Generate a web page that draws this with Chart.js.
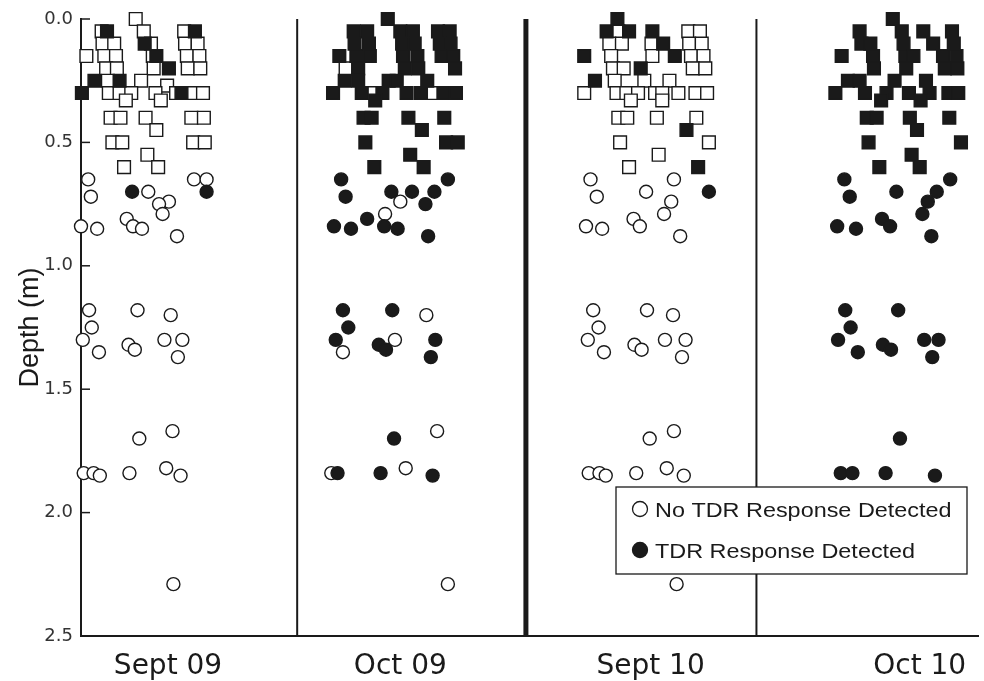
<!DOCTYPE html>
<html lang="en">
<head>
<meta charset="UTF-8">
<title>TDR response with depth</title>
<script src="https://cdn.jsdelivr.net/npm/chart.js"></script>
<style>
  body { margin: 0; background: #fff; }
  #grafico { display: block; }
</style>
</head>
<body>
<canvas id="grafico" width="984" height="681"></canvas>
<script>
// x values are % of the plot width, y values are depth in m
const panelNames = ['Sept 09', 'Oct 09', 'Sept 10', 'Oct 10'];
const panelLabelPos = [9.7, 35.6, 63.5, 93.5];
const dividerPos = [24.1, 49.6, 75.3];
const dividerWidth = [2, 5, 2];
const depthTicks = [0, 0.5, 1.0, 1.5, 2.0, 2.5];
const legendLabels = ['No TDR Response Detected', 'TDR Response Detected'];

// Sept 09
const sept09OpenSq = [
  [6.1, 0],
  [2.3, 0.05], [7.0, 0.05], [11.5, 0.05],
  [2.4, 0.1], [3.7, 0.1], [7.8, 0.1], [11.6, 0.1], [13.0, 0.1],
  [0.6, 0.15], [2.6, 0.15], [3.9, 0.15], [8.0, 0.15], [11.8, 0.15], [13.2, 0.15],
  [2.8, 0.2], [4.0, 0.2], [8.1, 0.2], [11.9, 0.2], [13.3, 0.2],
  [3.0, 0.25], [6.7, 0.25], [9.6, 0.27],
  [3.1, 0.3], [4.3, 0.3], [5.6, 0.3], [8.3, 0.3], [10.6, 0.3], [12.3, 0.3], [13.6, 0.3],
  [5.0, 0.33], [8.9, 0.33],
  [3.3, 0.4], [4.4, 0.4], [7.2, 0.4], [12.3, 0.4], [13.7, 0.4],
  [8.4, 0.45],
  [3.5, 0.5], [4.6, 0.5], [12.5, 0.5], [13.8, 0.5],
  [7.4, 0.55],
  [4.8, 0.6], [8.6, 0.6]
];
const sept09FilledSq = [[2.9, 0.05], [12.7, 0.05], [7.1, 0.1], [8.4, 0.15], [9.8, 0.2], [1.5, 0.25], [4.3, 0.25], [0.1, 0.3], [11.2, 0.3]];
const sept09OpenCirc = [
  [0.8, 0.65], [12.6, 0.65], [14.0, 0.65], [7.5, 0.70], [1.1, 0.72], [9.8, 0.74], [8.7, 0.75], [9.1, 0.79],
  [5.1, 0.81], [0.0, 0.84], [5.8, 0.84], [1.8, 0.85], [6.8, 0.85], [10.7, 0.88],
  [0.9, 1.18], [6.3, 1.18], [10.0, 1.20], [1.2, 1.25], [0.2, 1.30], [9.3, 1.30], [11.3, 1.30],
  [5.3, 1.32], [6.0, 1.34], [2.0, 1.35], [10.8, 1.37],
  [10.2, 1.67], [6.5, 1.70], [9.5, 1.82], [0.3, 1.84], [1.4, 1.84], [5.4, 1.84], [2.1, 1.85], [11.1, 1.85],
  [10.3, 2.29]
];
const sept09FilledCirc = [[5.7, 0.70], [14.0, 0.70]];

// Oct 09
const oct09OpenSq = [[29.5, 0.2], [32.5, 0.3], [39.1, 0.3]];
const oct09FilledSq = [
  [34.2, 0],
  [30.4, 0.05], [31.9, 0.05], [35.6, 0.05], [37.0, 0.05], [39.8, 0.05], [41.1, 0.05],
  [30.5, 0.1], [32.1, 0.1], [35.8, 0.1], [37.2, 0.1], [40.0, 0.1], [41.2, 0.1],
  [28.8, 0.15], [30.7, 0.15], [32.2, 0.15], [35.9, 0.15], [37.5, 0.15], [40.2, 0.15], [41.5, 0.15],
  [30.9, 0.2], [36.1, 0.2], [37.6, 0.2], [41.7, 0.2],
  [29.4, 0.25], [30.9, 0.25], [34.3, 0.25], [35.2, 0.25], [38.6, 0.25],
  [28.1, 0.3], [31.3, 0.3], [33.6, 0.3], [36.3, 0.3], [37.9, 0.3], [40.4, 0.3], [41.8, 0.3],
  [32.8, 0.33],
  [31.5, 0.4], [32.4, 0.4], [36.5, 0.4], [40.5, 0.4],
  [38.0, 0.45],
  [31.7, 0.5], [40.7, 0.5], [42.0, 0.5],
  [36.7, 0.55],
  [32.7, 0.6], [38.2, 0.6]
];
const oct09OpenCirc = [[35.6, 0.74], [33.9, 0.79], [38.5, 1.20], [35.0, 1.30], [29.2, 1.35], [39.7, 1.67], [36.2, 1.82], [27.9, 1.84], [40.9, 2.29]];
const oct09FilledCirc = [
  [29.0, 0.65], [40.9, 0.65], [34.6, 0.70], [36.9, 0.70], [39.4, 0.70], [29.5, 0.72], [38.4, 0.75], [31.9, 0.81],
  [28.2, 0.84], [33.8, 0.84], [30.1, 0.85], [35.3, 0.85], [38.7, 0.88],
  [29.2, 1.18], [34.7, 1.18], [29.8, 1.25], [28.4, 1.30], [39.5, 1.30], [33.2, 1.32], [34.0, 1.34], [39.0, 1.37],
  [34.9, 1.70], [28.6, 1.84], [33.4, 1.84], [39.2, 1.85]
];

// Sept 10
const sept10OpenSq = [
  [59.9, 0.05], [67.7, 0.05], [69.0, 0.05],
  [58.9, 0.1], [60.3, 0.1], [63.6, 0.1], [67.8, 0.1], [69.2, 0.1],
  [59.1, 0.15], [63.7, 0.15], [68.0, 0.15], [69.4, 0.15],
  [59.3, 0.2], [60.5, 0.2], [68.2, 0.2], [69.6, 0.2],
  [59.5, 0.25], [62.8, 0.25], [65.6, 0.25],
  [56.1, 0.3], [59.7, 0.3], [60.8, 0.3], [62.1, 0.3], [64.0, 0.3], [64.8, 0.3], [66.6, 0.3], [68.5, 0.3], [69.8, 0.3],
  [61.3, 0.33], [64.8, 0.33],
  [59.9, 0.4], [60.9, 0.4], [64.2, 0.4], [68.6, 0.4],
  [60.1, 0.5], [70.0, 0.5],
  [64.4, 0.55],
  [61.1, 0.6]
];
const sept10FilledSq = [[59.8, 0], [58.6, 0.05], [61.1, 0.05], [63.7, 0.05], [64.9, 0.1], [56.1, 0.15], [66.2, 0.15], [62.4, 0.2], [57.3, 0.25], [67.5, 0.45], [68.8, 0.6]];
const sept10OpenCirc = [
  [56.8, 0.65], [66.1, 0.65], [63.0, 0.70], [57.5, 0.72], [65.8, 0.74], [65.0, 0.79], [61.6, 0.81],
  [56.3, 0.84], [62.3, 0.84], [58.1, 0.85], [66.8, 0.88],
  [57.1, 1.18], [63.1, 1.18], [66.0, 1.20], [57.7, 1.25], [56.5, 1.30], [65.1, 1.30], [67.4, 1.30],
  [61.7, 1.32], [62.5, 1.34], [58.3, 1.35], [67.0, 1.37],
  [66.1, 1.67], [63.4, 1.70], [65.3, 1.82], [56.6, 1.84], [57.8, 1.84], [61.9, 1.84], [58.5, 1.85], [67.2, 1.85],
  [66.4, 2.29]
];
const sept10FilledCirc = [[70.0, 0.70]];

// Oct 10
const oct10FilledSq = [
  [90.5, 0],
  [86.8, 0.05], [91.5, 0.05], [93.9, 0.05], [97.1, 0.05],
  [87.0, 0.1], [88.0, 0.1], [91.7, 0.1], [95.0, 0.1], [97.3, 0.1],
  [84.8, 0.15], [88.3, 0.15], [91.9, 0.15], [92.8, 0.15], [96.1, 0.15], [97.6, 0.15],
  [88.4, 0.2], [92.0, 0.2], [96.3, 0.2], [97.7, 0.2],
  [85.5, 0.25], [86.8, 0.25], [90.7, 0.25], [94.2, 0.25],
  [84.1, 0.3], [87.4, 0.3], [89.8, 0.3], [92.3, 0.3], [94.6, 0.3], [96.7, 0.3], [97.8, 0.3],
  [89.2, 0.33], [93.6, 0.33],
  [87.6, 0.4], [88.7, 0.4], [92.4, 0.4], [96.8, 0.4],
  [93.2, 0.45],
  [87.8, 0.5], [98.1, 0.5],
  [92.6, 0.55],
  [89.0, 0.6], [93.5, 0.6]
];
const oct10FilledCirc = [
  [85.1, 0.65], [96.9, 0.65], [90.9, 0.70], [95.4, 0.70], [85.7, 0.72], [94.4, 0.74], [93.8, 0.79], [89.3, 0.81],
  [84.3, 0.84], [90.2, 0.84], [86.4, 0.85], [94.8, 0.88],
  [85.2, 1.18], [91.1, 1.18], [85.8, 1.25], [84.4, 1.30], [94.0, 1.30], [95.6, 1.30], [89.4, 1.32], [90.3, 1.34],
  [86.6, 1.35], [94.9, 1.37],
  [91.3, 1.70], [84.7, 1.84], [86.0, 1.84], [89.7, 1.84], [95.2, 1.85]
];

const preto = '#1a1a1a';

function pontos() {
  let lista = [];
  for (const arr of arguments) lista = lista.concat(arr);
  return lista.map(p => ({ x: p[0], y: p[1] }));
}

// dividers between the months, inward y ticks and the boxed legend
const extras = {
  id: 'extras',
  beforeDatasetsDraw(chart) {
    const { ctx, chartArea, scales } = chart;
    ctx.save();
    ctx.strokeStyle = preto;
    dividerPos.forEach((v, i) => {
      const x = scales.x.getPixelForValue(v);
      ctx.lineWidth = dividerWidth[i];
      ctx.beginPath();
      ctx.moveTo(x, chartArea.top);
      ctx.lineTo(x, chartArea.bottom);
      ctx.stroke();
    });
    ctx.lineWidth = 1.5;
    depthTicks.forEach(v => {
      const y = scales.y.getPixelForValue(v);
      ctx.beginPath();
      ctx.moveTo(chartArea.left, y);
      ctx.lineTo(chartArea.left + 9, y);
      ctx.stroke();
    });
    ctx.restore();
  },
  afterDatasetsDraw(chart) {
    const { ctx, chartArea } = chart;
    const left = chartArea.right - 362;
    const top = chartArea.top + 468;
    ctx.save();
    ctx.fillStyle = '#fff';
    ctx.strokeStyle = preto;
    ctx.lineWidth = 1.3;
    ctx.fillRect(left, top, 351, 87);
    ctx.strokeRect(left, top, 351, 87);
    legendLabels.forEach((txt, i) => {
      const cy = top + 22 + i * 41;
      ctx.beginPath();
      ctx.arc(left + 24, cy, 7.5, 0, Math.PI * 2);
      ctx.fillStyle = i === 0 ? '#fff' : preto;
      ctx.fill();
      ctx.lineWidth = 1.3;
      ctx.stroke();
      ctx.save();
      ctx.translate(left + 39, cy + 8);
      ctx.scale(1.17, 1);
      ctx.fillStyle = preto;
      ctx.font = '20px "Liberation Sans", Arial, sans-serif';
      ctx.fillText(txt, 0, 0);
      ctx.restore();
    });
    ctx.restore();
  }
};

const quadrado = { pointStyle: 'rect', pointRadius: 9, borderColor: preto, pointBorderWidth: 1.4, clip: false };
const circulo = { pointStyle: 'circle', pointRadius: 6.5, borderColor: preto, pointBorderWidth: 1.4, clip: false };

new Chart(document.getElementById('grafico'), {
  type: 'scatter',
  data: {
    datasets: [
      Object.assign({ label: 'resposta (quadrado)', order: 0, data: pontos(sept09FilledSq, oct09FilledSq, sept10FilledSq, oct10FilledSq), backgroundColor: preto }, quadrado),
      Object.assign({ label: 'resposta', order: 0, data: pontos(sept09FilledCirc, oct09FilledCirc, sept10FilledCirc, oct10FilledCirc), backgroundColor: preto }, circulo),
      Object.assign({ label: 'sem resposta (quadrado)', order: 1, data: pontos(sept09OpenSq, oct09OpenSq, sept10OpenSq), backgroundColor: '#fff' }, quadrado),
      Object.assign({ label: 'sem resposta', order: 1, data: pontos(sept09OpenCirc, oct09OpenCirc, sept10OpenCirc), backgroundColor: '#fff' }, circulo)
    ]
  },
  options: {
    responsive: false,
    devicePixelRatio: 1,
    animation: false,
    layout: { autoPadding: false, padding: { top: 19, right: 6, left: 0, bottom: 0 } },
    plugins: { legend: { display: false }, tooltip: { enabled: false } },
    scales: {
      x: {
        type: 'linear',
        min: 0,
        max: 100,
        grid: { display: false },
        border: { display: true, color: preto, width: 2 },
        afterBuildTicks: s => { s.ticks = panelLabelPos.map(v => ({ value: v })); },
        afterFit: s => { s.height = 45; s.paddingLeft = 0; s.paddingRight = 0; },
        ticks: {
          padding: 6,
          color: preto,
          font: { family: '"DejaVu Sans", sans-serif', size: 28 },
          callback: (v, i) => panelNames[i]
        }
      },
      y: {
        reverse: true,
        min: 0,
        max: 2.5,
        grid: { display: false },
        border: { display: true, color: preto, width: 2 },
        afterBuildTicks: s => { s.ticks = depthTicks.map(v => ({ value: v })); },
        afterFit: s => { s.width = 81; },
        ticks: {
          padding: 0,
          color: '#333',
          font: { family: '"DejaVu Sans", sans-serif', size: 18 },
          callback: v => v.toFixed(1)
        },
        title: {
          display: true,
          text: 'Depth (m)',
          color: preto,
          padding: { top: 14, bottom: 0 },
          font: { family: '"Liberation Sans", Arial, sans-serif', size: 27 }
        }
      }
    }
  },
  plugins: [extras]
});
</script>
</body>
</html>
